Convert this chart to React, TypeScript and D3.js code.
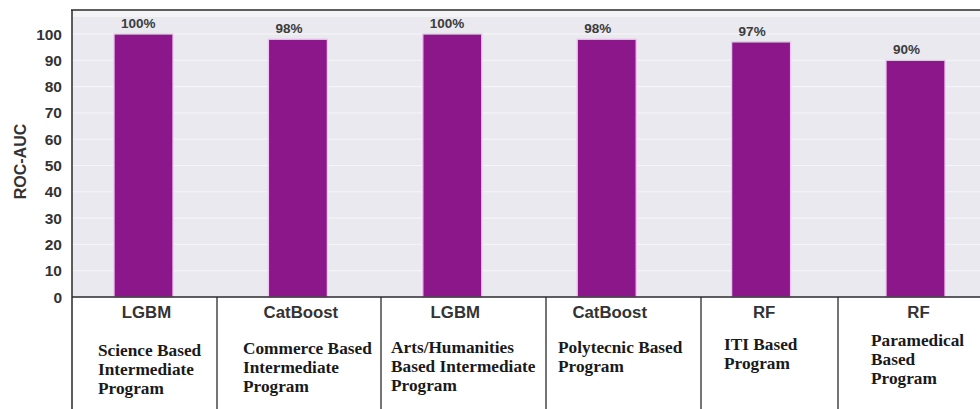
import React from "react";
import * as d3 from "d3";

// Best model per program and its ROC-AUC (%)
const models = ["LGBM", "CatBoost", "LGBM", "CatBoost", "RF", "RF"];
const programs = [
  ["Science Based", "Intermediate", "Program"],
  ["Commerce Based", "Intermediate", "Program"],
  ["Arts/Humanities", "Based Intermediate", "Program"],
  ["Polytecnic Based", "Program"],
  ["ITI Based", "Program"],
  ["Paramedical", "Based", "Program"],
];
const rocAuc = [100, 98, 100, 98, 97, 90];
const yTicks = [0, 10, 20, 30, 40, 50, 60, 70, 80, 90, 100];

// Table layout below the plot
const colEdges = [72, 217, 381, 546, 701, 838, 980];
const textInset = [26, 26, 10, 12, 23, 33];
const firstBaseline = [356, 354, 353, 352.5, 349.5, 346];

const W = 980;
const H = 409;
const plotLeft = 72;
const plotTop = 10;
const plotBottom = 297;

export default function App() {
  const x = d3
    .scaleBand<number>()
    .domain(d3.range(rocAuc.length))
    .range([66.3, 992.7])
    .paddingInner(0.618)
    .paddingOuter(0.309);
  const y = d3.scaleLinear().domain([0, 100]).range([plotBottom, 34]);

  const sans = "'Liberation Sans', Arial, sans-serif";
  const serif = "'Liberation Serif', 'Times New Roman', serif";

  return (
    <div style={{ position: "absolute", left: 0, top: 0 }}>
      <svg width={W} height={H} style={{ display: "block", background: "#fff" }}>
        {/* plot background */}
        <rect x={plotLeft} y={plotTop} width={W - plotLeft} height={plotBottom - plotTop} fill="#f4f4f7" />
        <rect x={plotLeft} y={17} width={W - plotLeft} height={plotBottom - 17} fill="#e9e9ef" />
        {yTicks.map((t) => (
          <line key={t} x1={plotLeft} x2={W} y1={y(t)} y2={y(t)} stroke="#f6f6fa" strokeWidth={1} />
        ))}

        {/* bars */}
        {rocAuc.map((v, i) => (
          <rect
            key={i}
            x={x(i)}
            y={y(v)}
            width={x.bandwidth()}
            height={plotBottom - y(v)}
            fill="#8b178b"
            stroke="#f2c2f2"
            strokeWidth={1.3}
          />
        ))}

        {/* value labels */}
        {rocAuc.map((v, i) => (
          <text
            key={i}
            x={(x(i) as number) + 7}
            y={y(v) - 6}
            fontFamily={sans}
            fontWeight="bold"
            fontSize={13.5}
            fill="#3c3c3c"
          >
            {v}%
          </text>
        ))}

        {/* frame */}
        <line x1={71} x2={W} y1={plotTop} y2={plotTop} stroke="#2a2a2a" strokeWidth={1.5} />
        <line x1={plotLeft} x2={plotLeft} y1={plotTop} y2={H} stroke="#2a2a2a" strokeWidth={1.5} />
        <line x1={plotLeft} x2={W} y1={plotBottom} y2={plotBottom} stroke="#2a2a2a" strokeWidth={1.5} />

        {/* y axis */}
        {yTicks.map((t) => (
          <text
            key={t}
            x={62}
            y={y(t)}
            dy="0.36em"
            textAnchor="end"
            fontFamily={sans}
            fontWeight="bold"
            fontSize={15.5}
            fill="#333"
          >
            {t}
          </text>
        ))}
        <text
          transform={`translate(25.5,161.5) rotate(-90)`}
          textAnchor="middle"
          fontFamily={sans}
          fontWeight="bold"
          fontSize={16}
          fill="#333"
        >
          ROC-AUC
        </text>

        {/* table of models and programs */}
        {colEdges.slice(1, -1).map((cx, i) => (
          <line key={i} x1={cx} x2={cx} y1={plotBottom} y2={H} stroke="#2a2a2a" strokeWidth={1.3} />
        ))}
        {models.map((m, i) => (
          <text
            key={i}
            x={(x(i) as number) + x.bandwidth() / 2 + 3}
            y={317.5}
            textAnchor="middle"
            fontFamily={sans}
            fontWeight="bold"
            fontSize={16.8}
            fill="#333"
          >
            {m}
          </text>
        ))}
        {programs.map((lines, i) => (
          <text
            key={i}
            fontFamily={serif}
            fontWeight="bold"
            fontSize={17.3}
            fill="#1a1a1a"
          >
            {lines.map((ln, j) => (
              <tspan key={j} x={colEdges[i] + textInset[i]} y={firstBaseline[i] + j * 19}>
                {ln}
              </tspan>
            ))}
          </text>
        ))}
      </svg>
    </div>
  );
}
